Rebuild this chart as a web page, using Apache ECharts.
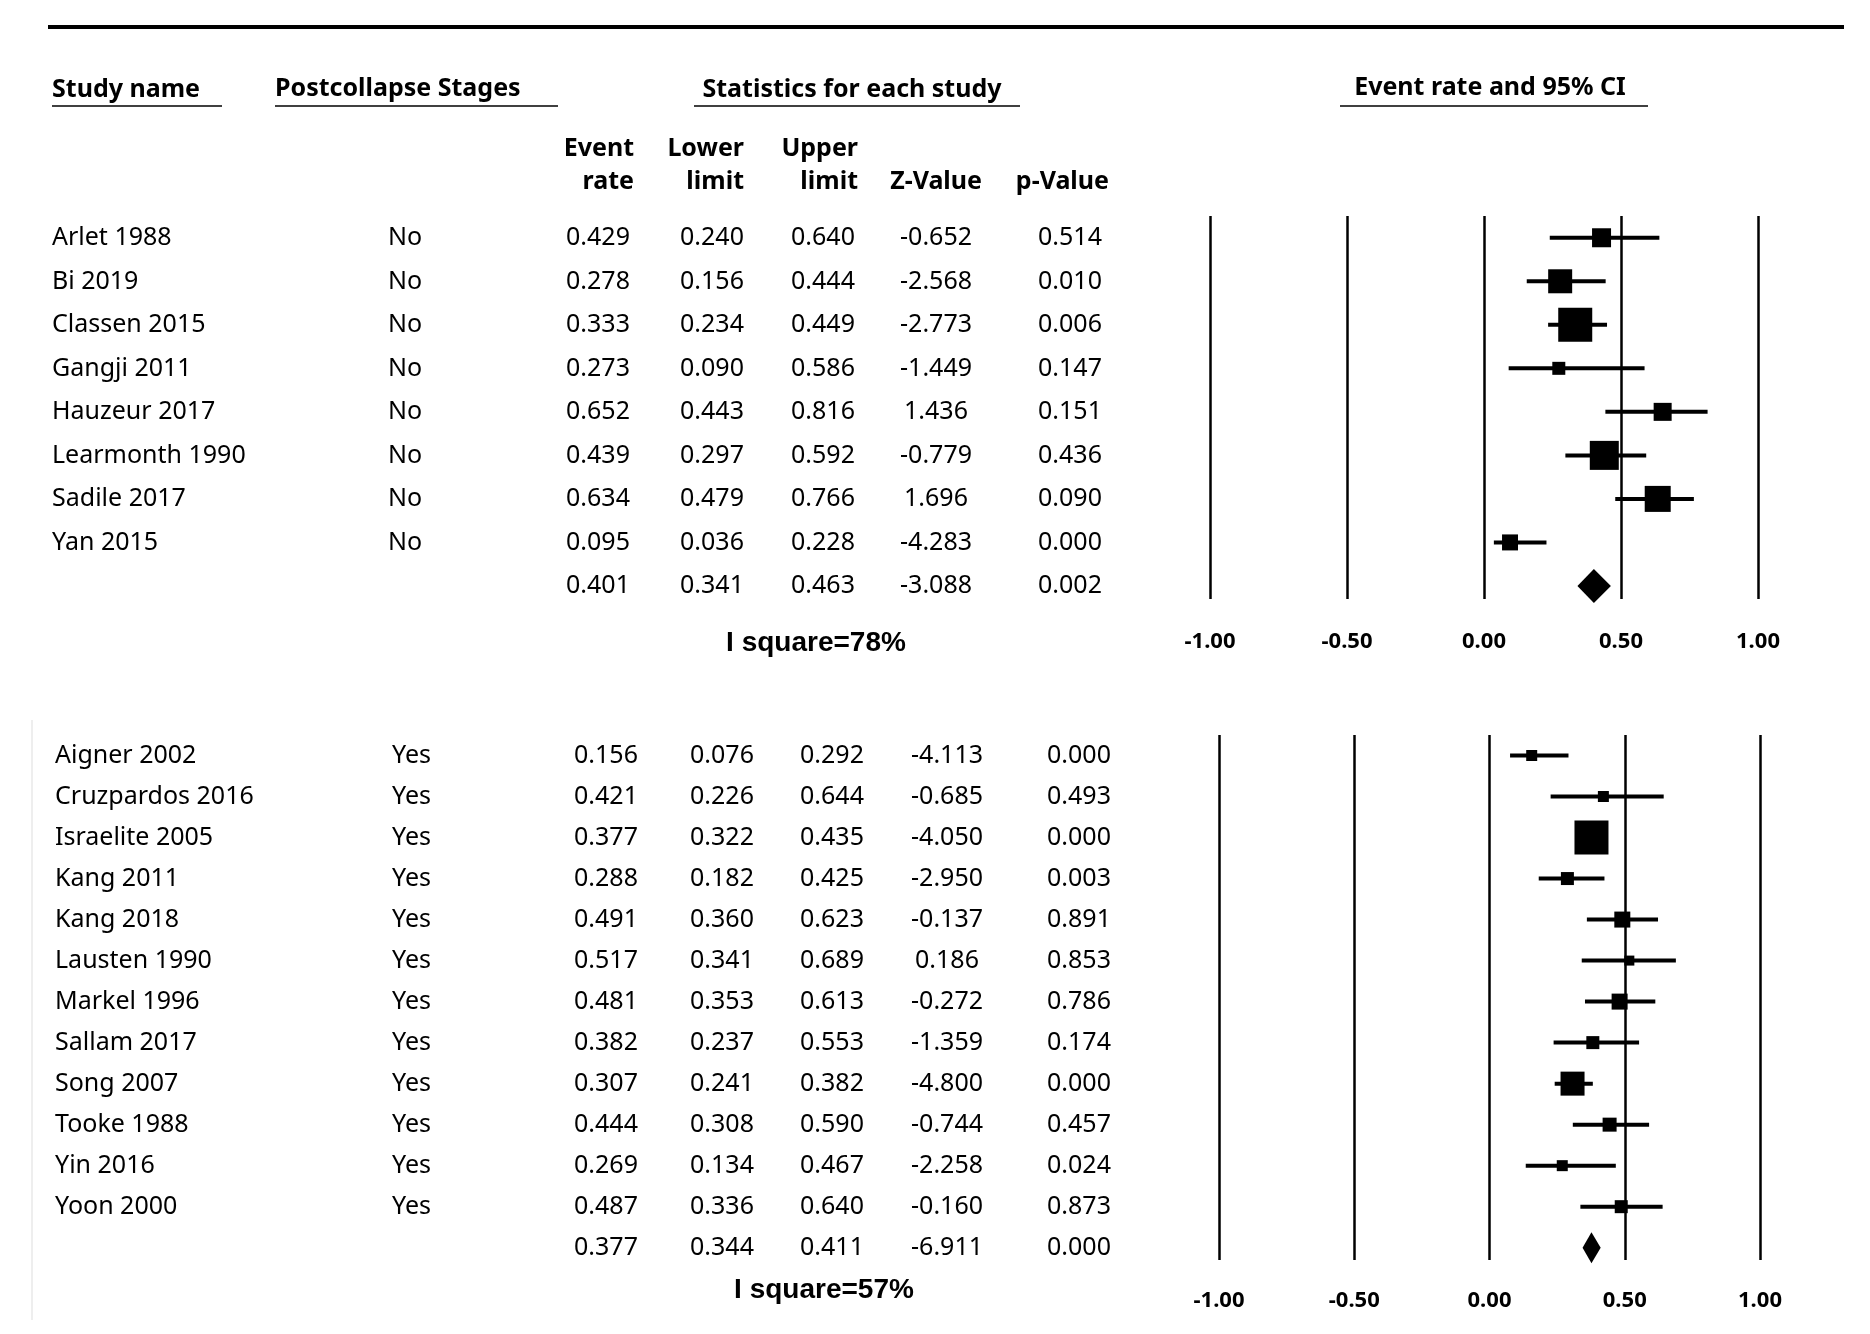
<!DOCTYPE html>
<html>
<head>
<meta charset="utf-8">
<script src="https://cdn.jsdelivr.net/npm/echarts@6/dist/echarts.min.js"></script>
<style>html,body{margin:0;padding:0;background:#fff}#chart{width:1870px;height:1334px}</style>
</head>
<body>
<div id="chart"></div>
<script>
// group 1 : No
var names1 = ['Arlet 1988','Bi 2019','Classen 2015','Gangji 2011','Hauzeur 2017','Learmonth 1990','Sadile 2017','Yan 2015'];
var stage1 = ['No','No','No','No','No','No','No','No'];
var rate1 = ['0.429','0.278','0.333','0.273','0.652','0.439','0.634','0.095'];
var lower1 = ['0.240','0.156','0.234','0.090','0.443','0.297','0.479','0.036'];
var upper1 = ['0.640','0.444','0.449','0.586','0.816','0.592','0.766','0.228'];
var zval1 = ['-0.652','-2.568','-2.773','-1.449','1.436','-0.779','1.696','-4.283'];
var pval1 = ['0.514','0.010','0.006','0.147','0.151','0.436','0.090','0.000'];
var weight1 = [19,24,34,13,18,29,26,16];
var summary1 = ['0.401','0.341','0.463','-3.088','0.002'];
// group 2 : Yes
var names2 = ['Aigner 2002','Cruzpardos 2016','Israelite 2005','Kang 2011','Kang 2018','Lausten 1990','Markel 1996','Sallam 2017','Song 2007','Tooke 1988','Yin 2016','Yoon 2000'];
var stage2 = ['Yes','Yes','Yes','Yes','Yes','Yes','Yes','Yes','Yes','Yes','Yes','Yes'];
var rate2 = ['0.156','0.421','0.377','0.288','0.491','0.517','0.481','0.382','0.307','0.444','0.269','0.487'];
var lower2 = ['0.076','0.226','0.322','0.182','0.360','0.341','0.353','0.237','0.241','0.308','0.134','0.336'];
var upper2 = ['0.292','0.644','0.435','0.425','0.623','0.689','0.613','0.553','0.382','0.590','0.467','0.640'];
var zval2 = ['-4.113','-0.685','-4.050','-2.950','-0.137','0.186','-0.272','-1.359','-4.800','-0.744','-2.258','-0.160'];
var pval2 = ['0.000','0.493','0.000','0.003','0.891','0.853','0.786','0.174','0.000','0.457','0.024','0.873'];
var weight2 = [11,11,34,13,16,10,16,13,24,14,11,13];
var summary2 = ['0.377','0.344','0.411','-6.911','0.000'];
var ticks = [-1, -0.5, 0, 0.5, 1];

var FONT = 'Noto Sans';
var g = [];
function txt(x, y, s, opt) {
  opt = opt || {};
  g.push({type:'text', x:x, y:y, style:{text:s, font:(opt.bold?'bold ':'') + (opt.size||25) + 'px "' + (opt.family||FONT) + '"',
    fill:'#000', align:opt.align||'left', verticalAlign:'middle'}});
}
function line(x1, y1, x2, y2, w) {
  g.push({type:'line', shape:{x1:x1,y1:y1,x2:x2,y2:y2}, style:{stroke:'#000', lineWidth:w||2}});
}
line(48, 27, 1844, 27, 4);
txt(52, 90, 'Study name', {bold:true}); line(52, 106, 222, 106, 1.5);
txt(275, 89, 'Postcollapse Stages', {bold:true}); line(275, 106, 558, 106, 1.5);
txt(852, 90, 'Statistics for each study', {bold:true, align:'center'}); line(694, 106, 1020, 106, 1.5);
txt(1490, 88, 'Event rate and 95% CI', {bold:true, align:'center'}); line(1340, 106, 1648, 106, 1.5);
var hx = [634, 744, 858, 982, 1109];
var h1 = ['Event','Lower','Upper','',''], h2 = ['rate','limit','limit','Z-Value','p-Value'];
for (var i = 0; i < 5; i++) {
  if (h1[i]) txt(hx[i], 149, h1[i], {bold:true, align:'right'});
  txt(hx[i], 182, h2[i], {bold:true, align:'right'});
}

function table(names, stages, cols, summary, y0, step, nameX, stageX, colX) {
  for (var r = 0; r < names.length; r++) {
    var y = y0 + r * step;
    txt(nameX, y, names[r]);
    txt(stageX, y, stages[r]);
    for (var c = 0; c < 5; c++) txt(colX[c], y, cols[c][r], {align:'center'});
  }
  var ys = y0 + names.length * step;
  for (var c = 0; c < 5; c++) txt(colX[c], ys, summary[c], {align:'center'});
}
table(names1, stage1, [rate1, lower1, upper1, zval1, pval1], summary1, 238, 43.5, 52, 388, [598, 712, 823, 936, 1070]);
table(names2, stage2, [rate2, lower2, upper2, zval2, pval2], summary2, 756, 41, 55, 392, [606, 722, 832, 947, 1079]);
txt(816, 643, 'I square=78%', {bold:true, family:'Liberation Sans', size:28, align:'center'});
txt(824, 1290, 'I square=57%', {bold:true, family:'Liberation Sans', size:28, align:'center'});
line(32, 720, 32, 1320, 1);
g[g.length - 1].style.stroke = '#ddd';

function forestData(rate, lower, upper, weight, summary) {
  var d = rate.map(function (v, i) { return [i, +v, +lower[i], +upper[i], weight[i], 0]; });
  d.push([rate.length, +summary[0], +summary[1], +summary[2], 0, 1]);
  return d;
}
function renderForest(diamondH) {
  return function (params, api) {
    var row = api.value(0), er = api.value(1), lo = api.value(2), hi = api.value(3), w = api.value(4);
    var c = api.coord([er, row]), a = api.coord([lo, row]), b = api.coord([hi, row]);
    if (api.value(5) === 1) {
      return {type:'polygon', shape:{points:[[a[0], c[1]], [c[0], c[1] - diamondH / 2], [b[0], c[1]], [c[0], c[1] + diamondH / 2]]},
        style:{fill:'#000'}};
    }
    return {type:'group', children:[
      {type:'line', shape:{x1:a[0], y1:a[1], x2:b[0], y2:b[1]}, style:{stroke:'#000', lineWidth:4}},
      {type:'rect', shape:{x:c[0] - w / 2, y:c[1] - w / 2, width:w, height:w}, style:{fill:'#000'}}
    ]};
  };
}
function xAxis(gi, margin) {
  return {gridIndex:gi, type:'value', min:-1, max:1, interval:0.5,
    axisLine:{show:false}, axisTick:{show:false},
    splitLine:{show:true, lineStyle:{color:'#000', width:2.5}},
    axisLabel:{margin:margin, color:'#000', fontWeight:'bold', fontSize:22, fontFamily:FONT,
      formatter:function (v) { return v.toFixed(2); }}};
}
var chart = echarts.init(document.getElementById('chart'));
chart.setOption({
  animation:false,
  grid:[{left:1210, width:548, top:216, height:383},
        {left:1219, width:541, top:735, height:525}],
  xAxis:[xAxis(0, 32), xAxis(1, 30)],
  yAxis:[{gridIndex:0, type:'value', min:-0.5, max:8.3, inverse:true, show:false},
         {gridIndex:1, type:'value', min:-0.5, max:12.3, inverse:true, show:false}],
  series:[
    {type:'custom', xAxisIndex:0, yAxisIndex:0, encode:{x:1, y:0}, renderItem:renderForest(34),
      data:forestData(rate1, lower1, upper1, weight1, summary1)},
    {type:'custom', xAxisIndex:1, yAxisIndex:1, encode:{x:1, y:0}, renderItem:renderForest(31),
      data:forestData(rate2, lower2, upper2, weight2, summary2)}
  ],
  graphic:g
});
</script>
</body>
</html>
